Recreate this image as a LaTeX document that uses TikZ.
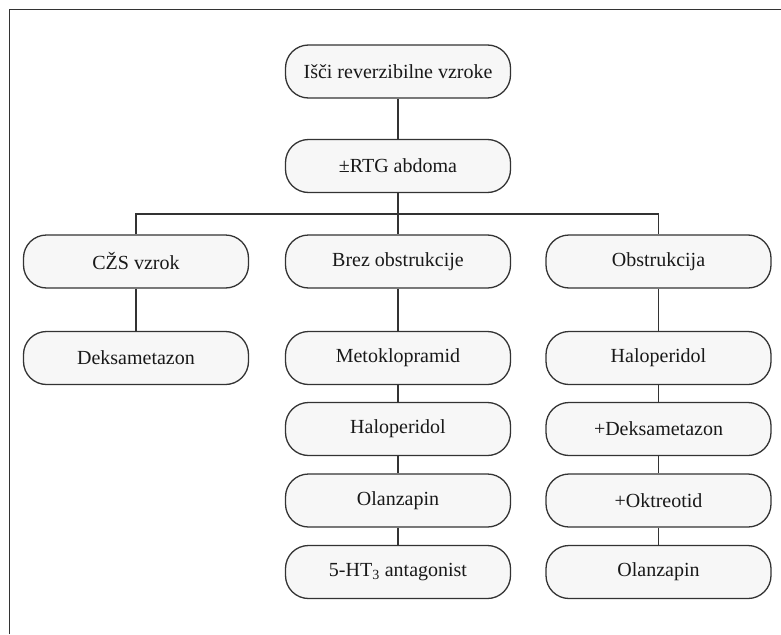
\documentclass[tikz,border=0pt]{standalone}
\usepackage{fontspec}
\setmainfont{Liberation Serif}
\begin{document}
\begin{tikzpicture}[x=1pt,y=-1pt,
  box/.style={draw=black!80, line width=1.3pt, rounded corners=23pt, fill=black!3,
    minimum width=225pt, minimum height=53pt, inner sep=0pt, font=\fontsize{20}{23}\selectfont, text=black!90},
  conn/.style={draw=black!80, line width=1.3pt}]
\useasboundingbox (0,0) rectangle (781,634);
\draw[draw=black!80, line width=1.5pt] (9.5,634) -- (9.5,9.5) -- (781,9.5);
\node[box] (a) at (398,71.5) {Išči reverzibilne vzroke};
\node[box] (b) at (398,166) {±RTG abdoma};
\node[box] (c1) at (136,261.5) {CŽS vzrok};
\node[box] (c2) at (398,261.5) {Brez obstrukcije};
\node[box] (c3) at (658.5,261.5) {Obstrukcija};
\node[box] (l1) at (136,358) {Deksametazon};
\node[box] (m1) at (398,358) {Metoklopramid};
\node[box] (m2) at (398,429) {Haloperidol};
\node[box] (m3) at (398,500.5) {Olanzapin};
\node[box] (m4) at (398,572) {5-HT\textsubscript{3} antagonist};
\node[box] (r1) at (658.5,358) {Haloperidol};
\node[box] (r2) at (658.5,429) {+Deksametazon};
\node[box] (r3) at (658.5,500.5) {+Oktreotid};
\node[box] (r4) at (658.5,572) {Olanzapin};
\coordinate (j) at (398,214);
\draw[conn] (a) -- (b);
\draw[conn] (b) -- (j);
\draw[conn] (c1.north) -- (c1.north |- j) -- (c3.north |- j) -- (c3.north);
\draw[conn] (j) -- (c2);
\draw[conn] (c1) -- (l1);
\draw[conn] (c2) -- (m1);
\draw[conn] (m1) -- (m2);
\draw[conn] (m2) -- (m3);
\draw[conn] (m3) -- (m4);
\draw[conn] (c3) -- (r1);
\draw[conn] (r1) -- (r2);
\draw[conn] (r2) -- (r3);
\draw[conn] (r3) -- (r4);
\end{tikzpicture}
\end{document}
